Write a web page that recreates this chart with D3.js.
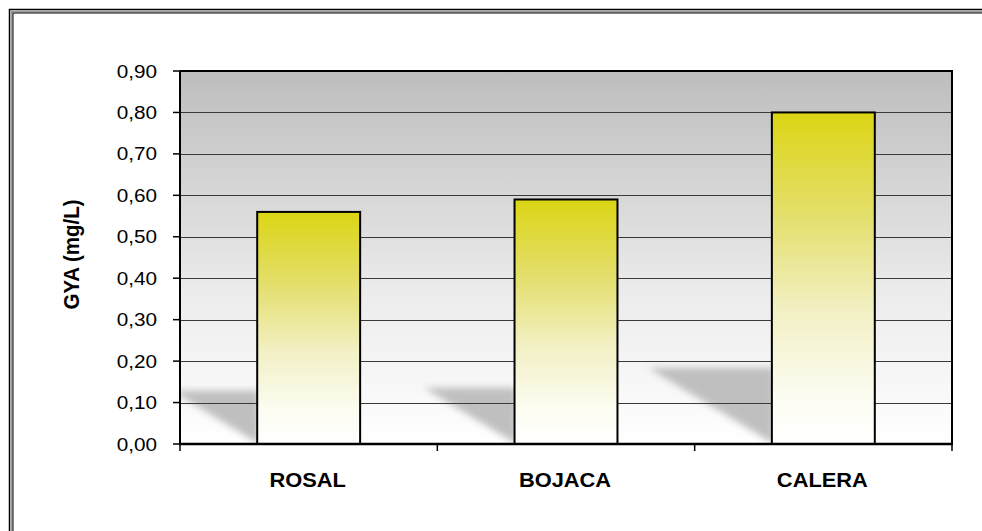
<!DOCTYPE html>
<html>
<head>
<meta charset="utf-8">
<script src="https://cdn.jsdelivr.net/npm/d3@7"></script>
<style>
  html, body { margin: 0; padding: 0; background: #fff; }
  svg { display: block; }
  text { font-family: "Liberation Sans", Arial, sans-serif; fill: #000; }
</style>
</head>
<body>
<svg id="chart" width="982" height="531"></svg>
<script>
// Data
const categories = ["ROSAL", "BOJACA", "CALERA"];
const values = [0.56, 0.59, 0.80];
const yTicks = [0, 0.1, 0.2, 0.3, 0.4, 0.5, 0.6, 0.7, 0.8, 0.9];
const yLabel = "GYA (mg/L)";

const plot = { left: 180, right: 952, top: 71, bottom: 444 };
const stretch = 1.12; // horizontal text stretch

const svg = d3.select("#chart");
const defs = svg.append("defs");

// Outer double frame (runs off the right and bottom edges)
svg.append("rect").attr("x", 9.5).attr("y", 9.5).attr("width", 2000).attr("height", 2000)
  .attr("fill", "none").attr("stroke", "#000").attr("stroke-width", 1.5);
svg.append("rect").attr("x", 11.5).attr("y", 11.5).attr("width", 2000).attr("height", 2000)
  .attr("fill", "none").attr("stroke", "#9a9a9a").attr("stroke-width", 2);
svg.append("rect").attr("x", 13).attr("y", 13).attr("width", 2000).attr("height", 2000)
  .attr("fill", "none").attr("stroke", "#000").attr("stroke-width", 1);

// Scales
const y = d3.scaleLinear().domain([0, 0.9]).range([plot.bottom, plot.top]);
const x = d3.scaleBand().domain(categories).range([plot.left, plot.right])
  .paddingInner(0.6).paddingOuter(0.3);
const step = x.step();

const fmt = d3.formatLocale({ decimal: ",", thousands: ".", grouping: [3], currency: ["", ""] }).format(".2f");

// Gradients
const bg = defs.append("linearGradient").attr("id", "bgGrad")
  .attr("x1", 0).attr("y1", 0).attr("x2", 0).attr("y2", 1);
bg.append("stop").attr("offset", "0%").attr("stop-color", "#bdbdbd");
bg.append("stop").attr("offset", "60%").attr("stop-color", "#ececec");
bg.append("stop").attr("offset", "100%").attr("stop-color", "#ffffff");

const barGrad = defs.append("linearGradient").attr("id", "barGrad")
  .attr("x1", 0).attr("y1", 0).attr("x2", 0).attr("y2", 1);
barGrad.append("stop").attr("offset", "0%").attr("stop-color", "#dbd514");
barGrad.append("stop").attr("offset", "30%").attr("stop-color", "#e3de68");
barGrad.append("stop").attr("offset", "60%").attr("stop-color", "#f2f0c4");
barGrad.append("stop").attr("offset", "85%").attr("stop-color", "#fcfcf1");
barGrad.append("stop").attr("offset", "100%").attr("stop-color", "#ffffff");

const blur = defs.append("filter").attr("id", "soft")
  .attr("x", "-20%").attr("y", "-30%").attr("width", "140%").attr("height", "160%");
blur.append("feGaussianBlur").attr("stdDeviation", 3.5);

defs.append("clipPath").attr("id", "plotClip").append("rect")
  .attr("x", plot.left).attr("y", plot.top)
  .attr("width", plot.right - plot.left).attr("height", plot.bottom - plot.top);

// Plot background
svg.append("rect").attr("x", plot.left).attr("y", plot.top)
  .attr("width", plot.right - plot.left).attr("height", plot.bottom - plot.top)
  .attr("fill", "url(#bgGrad)");

// Cast shadows behind each bar
const shadowG = svg.append("g").attr("clip-path", "url(#plotClip)");
shadowG.selectAll("path").data(categories).join("path")
  .attr("d", (c, i) => {
    const x0 = x(c) + 2;
    const barH = plot.bottom - y(values[i]);
    const sh = barH * 0.23;
    const sw = sh * 1.65;
    const top = plot.bottom - sh;
    return `M${x0 - sw},${top} L${x0},${top} L${x0},${plot.bottom} Z`;
  })
  .attr("fill", "#bfbfbf")
  .attr("filter", "url(#soft)");

// Gridlines
svg.append("g").selectAll("line").data(yTicks.filter(t => t > 0 && t < 0.9)).join("line")
  .attr("x1", plot.left).attr("x2", plot.right)
  .attr("y1", d => Math.round(y(d)) + 0.5).attr("y2", d => Math.round(y(d)) + 0.5)
  .attr("stroke", "#3a3a3a").attr("stroke-width", 1);

// Plot border (top and right)
svg.append("path")
  .attr("d", `M${plot.left},${plot.top} H${plot.right} V${plot.bottom}`)
  .attr("fill", "none").attr("stroke", "#000").attr("stroke-width", 2);

// Bars
svg.append("g").selectAll("rect").data(categories).join("rect")
  .attr("x", c => x(c))
  .attr("y", (c, i) => y(values[i]))
  .attr("width", x.bandwidth())
  .attr("height", (c, i) => plot.bottom - y(values[i]))
  .attr("fill", "url(#barGrad)")
  .attr("stroke", "#000").attr("stroke-width", 2);

// Y axis
const yAxis = svg.append("g");
yAxis.append("line").attr("x1", plot.left).attr("x2", plot.left)
  .attr("y1", plot.top).attr("y2", plot.bottom + 1)
  .attr("stroke", "#000").attr("stroke-width", 2);
yAxis.selectAll("line.tick").data(yTicks).join("line").attr("class", "tick")
  .attr("x1", plot.left - 7).attr("x2", plot.left)
  .attr("y1", d => y(d)).attr("y2", d => y(d))
  .attr("stroke", "#000").attr("stroke-width", 1.5);
yAxis.selectAll("text").data(yTicks).join("text")
  .attr("transform", d => `translate(157,${y(d) + 6.5}) scale(${stretch},1)`)
  .attr("text-anchor", "end")
  .attr("font-size", 18.5)
  .text(d => fmt(d));

// X axis
const xAxis = svg.append("g");
xAxis.append("line").attr("x1", plot.left - 1).attr("x2", plot.right + 1)
  .attr("y1", plot.bottom).attr("y2", plot.bottom)
  .attr("stroke", "#000").attr("stroke-width", 2.5);
xAxis.selectAll("line.tick").data(d3.range(categories.length + 1)).join("line").attr("class", "tick")
  .attr("x1", i => plot.left + i * step).attr("x2", i => plot.left + i * step)
  .attr("y1", plot.bottom).attr("y2", plot.bottom + 7)
  .attr("stroke", "#000").attr("stroke-width", 1.5);
xAxis.selectAll("text").data(categories).join("text")
  .attr("transform", c => `translate(${x(c) + x.bandwidth() / 2 - 1},487) scale(${stretch},1)`)
  .attr("text-anchor", "middle")
  .attr("font-size", 19.5).attr("font-weight", "bold")
  .text(c => c);

// Y axis title
svg.append("text")
  .attr("transform", `translate(79,${(plot.top + plot.bottom) / 2 - 3}) rotate(-90) scale(1,${stretch})`)
  .attr("text-anchor", "middle")
  .attr("font-size", 20.5).attr("font-weight", "bold")
  .text(yLabel);
</script>
</body>
</html>
